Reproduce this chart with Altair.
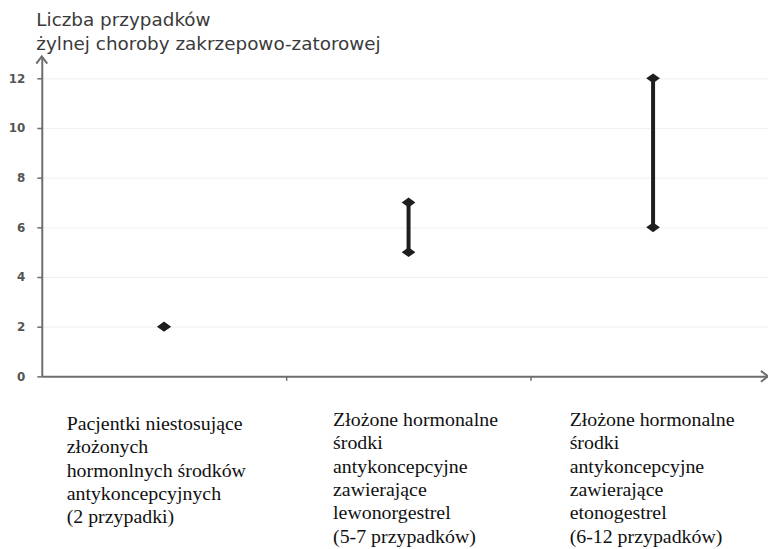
import altair as alt
import pandas as pd

# ---- data ----
categories = [
    "Pacjentki niestosujące\nzłożonych\nhormonlnych środków\nantykoncepcyjnych\n(2 przypadki)",
    "Złożone hormonalne\nśrodki\nantykoncepcyjne\nzawierające\nlewonorgestrel\n(5-7 przypadków)",
    "Złożone hormonalne\nśrodki\nantykoncepcyjne\nzawierające\netonogestrel\n(6-12 przypadków)",
]
low_values = [2, 5, 6]
high_values = [2, 7, 12]
y_ticks = [0, 2, 4, 6, 8, 10, 12]
y_title = ["Liczba przypadków", "żylnej choroby zakrzepowo-zatorowej"]

df = pd.DataFrame({
    "cat": categories,
    "pos": [i + 0.5 for i in range(len(categories))],
    "lo": low_values,
    "hi": high_values,
})

X_MAX = 2.97
Y_MAX = 12.88
W = 731
H = 322

xs = alt.Scale(domain=[0, X_MAX], nice=False, zero=False)
ys = alt.Scale(domain=[0, Y_MAX], nice=False, zero=True)

AX = "#6e6e6e"
INK = "#1e1e1e"

base = alt.Chart(df)

x_enc = alt.X("pos:Q", scale=xs, axis=alt.Axis(
    values=[1, 2], labels=False, title=None, grid=False, tickSize=4,
    tickColor=AX, tickWidth=1.5, domainColor=AX, domainWidth=2))
y_enc_lo = alt.Y("lo:Q", scale=ys, axis=alt.Axis(
    values=y_ticks, title=y_title, titleAngle=0, titleAlign="left",
    titleBaseline="middle", titleX=-6, titleY=-37, titleLineHeight=24,
    titleFont="DejaVu Sans", titleFontSize=18.5, titleFontWeight="normal",
    titleColor="#3a3a3a", labelFont="DejaVu Sans", labelFontSize=12,
    labelFontWeight="bold", labelColor="#555555", labelPadding=12,
    tickSize=5, tickColor=AX, tickWidth=1.5, domainColor=AX, domainWidth=2,
    grid=True, gridColor="#f0f0f0", gridWidth=1))

rules = base.mark_rule(color=INK, strokeWidth=4).encode(
    x=x_enc, y=y_enc_lo, y2="hi:Q")

diamond = "M-1,0L0,-0.72L1,0L0,0.72Z"
pts_lo = base.mark_point(shape=diamond, size=190, filled=True, color=INK, opacity=1).encode(
    x=alt.X("pos:Q", scale=xs), y=alt.Y("lo:Q", scale=ys))
pts_hi = base.mark_point(shape=diamond, size=190, filled=True, color=INK, opacity=1).encode(
    x=alt.X("pos:Q", scale=xs), y=alt.Y("hi:Q", scale=ys))

arrow_df = pd.DataFrame({"ax": [0.0], "ay": [Y_MAX], "bx": [X_MAX], "by": [0.0]})
arrow_up = alt.Chart(arrow_df).mark_point(
    shape="M-1,1.3L0,0L1,1.3", size=121, filled=False, stroke=AX, strokeWidth=2,
    opacity=1, clip=False).encode(
    x=alt.X("ax:Q", scale=xs), y=alt.Y("ay:Q", scale=ys))
arrow_right = alt.Chart(arrow_df).mark_point(
    shape="M-1.3,-1L0,0L-1.3,1", size=121, filled=False, stroke=AX, strokeWidth=2,
    opacity=1, clip=False).encode(
    x=alt.X("bx:Q", scale=xs), y=alt.Y("by:Q", scale=ys))

label_layers = []
offsets = [(-98, 360), (-76, 356), (-84, 356)]
for i, (dx, yy) in enumerate(offsets):
    label_layers.append(
        alt.Chart(df.iloc[[i]]).mark_text(
            align="left", baseline="top", lineBreak="\n", dx=dx,
            font="Liberation Serif", fontSize=20, lineHeight=23.5,
            color="#111111", clip=False).encode(
            x=alt.X("pos:Q", scale=xs), y=alt.value(yy), text="cat:N"))

chart = alt.layer(rules, pts_lo, pts_hi, arrow_up, arrow_right, *label_layers).properties(
    width=W, height=H,
    autosize=alt.AutoSizeParams(type="none"),
    padding={"left": 34, "top": 47, "right": 0, "bottom": 172},
).configure_view(stroke=None)

chart.save("out.html", embed_options={"renderer": "svg", "actions": False})
